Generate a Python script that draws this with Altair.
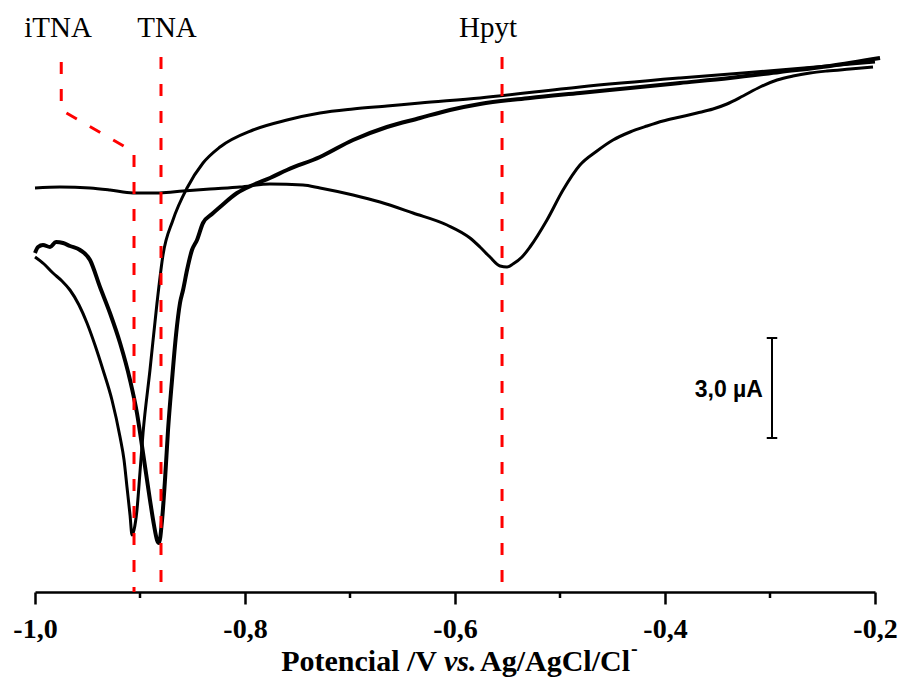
import altair as alt
import pandas as pd

# ---- data (potential in V vs Ag/AgCl/Cl-, current in µA, arbitrary offset) ----
# Curve with the iTNA peak (smooth)
E_itna = [-1.000, -0.9914, -0.9829, -0.9743, -0.9667, -0.9581, -0.9505, -0.9429, -0.9352,
          -0.9267, -0.9190, -0.9152, -0.9124, -0.9095, -0.9076, -0.9057, -0.9029, -0.9000,
          -0.8971, -0.8905, -0.8838, -0.8781, -0.8686, -0.8552, -0.8400, -0.8238, -0.7924,
          -0.7600, -0.7286, -0.6971, -0.6648, -0.6333, -0.5762, -0.4810, -0.3857, -0.2905, -0.2000]
I_itna = [10.05, 9.84, 9.57, 9.33, 9.06, 8.61, 8.07, 7.41, 6.66,
          5.76, 4.65, 3.96, 3.15, 2.31, 1.71, 1.86, 2.46, 3.60,
          4.77, 6.66, 8.67, 10.11, 11.16, 12.12, 12.87, 13.35, 13.86,
          14.16, 14.37, 14.49, 14.58, 14.67, 14.82, 15.15, 15.42, 15.66, 15.90]

# Curve with the TNA peak (noisy record)
E_tna = [-1.000, -0.9971, -0.9924, -0.9857, -0.9800, -0.9733, -0.9667, -0.9571, -0.9476,
         -0.9381, -0.9286, -0.9190, -0.9095, -0.9029, -0.8971, -0.8905, -0.8867, -0.8838,
         -0.8819, -0.8790, -0.8762, -0.8733, -0.8695, -0.8657, -0.8619, -0.8590, -0.8552,
         -0.8505, -0.8457, -0.8400, -0.8314, -0.8238, -0.8076, -0.7924, -0.7762, -0.7600,
         -0.7286, -0.6971, -0.6648, -0.6333, -0.6048, -0.5762, -0.5286, -0.4810, -0.4333,
         -0.3857, -0.3381, -0.2905, -0.2429, -0.1952]
I_tna = [10.17, 10.35, 10.41, 10.35, 10.50, 10.47, 10.38, 10.26, 9.96,
         9.15, 8.37, 7.47, 6.36, 5.37, 4.17, 2.76, 2.01, 1.56,
         1.47, 2.16, 3.36, 4.86, 6.36, 7.71, 8.67, 9.06, 9.66,
         10.26, 10.56, 11.07, 11.34, 11.55, 11.97, 12.21, 12.42, 12.66,
         13.05, 13.56, 13.95, 14.22, 14.46, 14.64, 14.82, 14.97, 15.12,
         15.27, 15.42, 15.60, 15.78, 16.02]

# Curve with the Hpyt peak (smooth)
E_hpyt = [-1.000, -0.9762, -0.9476, -0.9286, -0.9067, -0.8810, -0.8590, -0.8333, -0.8048,
          -0.7762, -0.7448, -0.7286, -0.6971, -0.6714, -0.6400, -0.6076, -0.5857, -0.5762,
          -0.5667, -0.5571, -0.5505, -0.5448, -0.5362, -0.5286, -0.5124, -0.4971, -0.4810,
          -0.4648, -0.4495, -0.4333, -0.4171, -0.4019, -0.3857, -0.3695, -0.3543, -0.3410,
          -0.3257, -0.3095, -0.2933, -0.2781, -0.2619, -0.2457, -0.2238, -0.2019]
I_hpyt = [12.12, 12.15, 12.12, 12.06, 11.97, 11.97, 12.03, 12.09, 12.15,
          12.24, 12.21, 12.12, 11.91, 11.70, 11.37, 11.01, 10.62, 10.35,
          10.05, 9.78, 9.75, 9.84, 10.05, 10.35, 11.16, 12.06, 12.81,
          13.23, 13.56, 13.80, 13.98, 14.13, 14.25, 14.37, 14.49, 14.64,
          14.88, 15.15, 15.36, 15.48, 15.57, 15.63, 15.69, 15.75]

# Peak markers
peak_names = ["iTNA", "TNA", "Hpyt"]
peak_E = [-0.9057, -0.8800, -0.5552]
label_E = [-0.9780, -0.8743, -0.5686]
label_I = 16.65
marker_top = 16.05
# leader line of the iTNA marker
itna_leader_E = [-0.9750, -0.9750, -0.9057, -0.9057]
itna_leader_I = [15.90, 14.46, 13.20, 0.0]

# Scale bar (3,0 µA)
bar_E = -0.2981
bar_I = [4.62, 7.62]
bar_label = "3,0 µA"

x_ticks_major = [-1.0, -0.8, -0.6, -0.4, -0.2]
x_ticks_minor = [-0.9, -0.7, -0.5, -0.3]

W, H = 840, 572

xscale = alt.Scale(domain=[-1.0, -0.2], nice=False, zero=False)
yscale = alt.Scale(domain=[0, 17.16], nice=False, zero=False)
xaxis = alt.Axis(values=x_ticks_major,
                 labelExpr="'-' + replace(format(abs(datum.value), '.1f'), '.', ',')",
                 labelFont="Liberation Serif", labelFontSize=28, labelFontWeight="bold",
                 labelColor="black", labelPadding=11, labelFlush=False,
                 tickSize=12, tickWidth=2.5, tickColor="black",
                 domainColor="black", domainWidth=2.5, grid=False, title=None)


def X(field="E"):
    return alt.X(f"{field}:Q", scale=xscale, axis=xaxis)


def Y(field="I"):
    return alt.Y(f"{field}:Q", scale=yscale, axis=None)


def curve(E, I, width):
    df = pd.DataFrame({"E": E, "I": I, "k": list(range(len(E)))})
    return alt.Chart(df).mark_line(color="black", strokeWidth=width,
                                   interpolate="monotone").encode(
        x=X(), y=Y(), order="k:Q")


c_itna = curve(E_itna, I_itna, 3.0)
c_hpyt = curve(E_hpyt, I_hpyt, 3.0)
c_tna = curve(E_tna, I_tna, 4.0)

minor = alt.Chart(pd.DataFrame({"E": x_ticks_minor})).mark_rule(
    color="black", strokeWidth=2.5).encode(x=X(), y=alt.value(H), y2=alt.value(H + 6))

red_df = pd.DataFrame({"E": peak_E[1:], "I": [marker_top] * 2, "I0": [0.0] * 2})
red_rules = alt.Chart(red_df).mark_rule(color="#ff0000", strokeWidth=3,
                                        strokeDash=[12, 15]).encode(
    x=X(), y=Y(), y2="I0:Q")
lead_df = pd.DataFrame({"E": itna_leader_E, "I": itna_leader_I,
                        "k": list(range(len(itna_leader_E)))})
red_lead = alt.Chart(lead_df).mark_line(color="#ff0000", strokeWidth=3,
                                        strokeDash=[12, 15]).encode(
    x=X(), y=Y(), order="k:Q")

lab_df = pd.DataFrame({"E": label_E, "I": [label_I] * 3, "t": peak_names})
labels = alt.Chart(lab_df).mark_text(font="Liberation Serif", fontSize=29,
                                     color="black", align="center",
                                     baseline="alphabetic").encode(
    x=X(), y=Y(), text="t:N")

bar_df = pd.DataFrame({"E": [bar_E], "I": [bar_I[0]], "I2": [bar_I[1]]})
bar = alt.Chart(bar_df).mark_rule(color="black", strokeWidth=2).encode(
    x=X(), y=Y(), y2="I2:Q")
cap_df = pd.DataFrame({"E": [bar_E - 0.005] * 2, "E2": [bar_E + 0.005] * 2, "I": bar_I})
caps = alt.Chart(cap_df).mark_rule(color="black", strokeWidth=2).encode(
    x=X(), x2="E2:Q", y=Y())
bar_txt = alt.Chart(pd.DataFrame({"E": [bar_E - 0.0086], "I": [sum(bar_I) / 2 - 0.06],
                                  "t": [bar_label]})).mark_text(
    font="Liberation Sans", fontSize=23, fontWeight="bold", color="black",
    align="right", baseline="middle").encode(x=X(), y=Y(), text="t:N")

# axis title made of styled pieces
t_y = 651
tdf = pd.DataFrame({"t": ["x"]})
title1 = alt.Chart(tdf).mark_text(text="Potencial /V", font="Liberation Serif", fontSize=30,
                                  fontWeight="bold", align="right", baseline="alphabetic",
                                  color="black").encode(x=alt.value(402), y=alt.value(t_y))
title2 = alt.Chart(tdf).mark_text(text="vs.", font="Liberation Serif", fontSize=30,
                                  fontWeight="bold", fontStyle="italic", align="left",
                                  baseline="alphabetic", color="black").encode(
    x=alt.value(409), y=alt.value(t_y))
title3 = alt.Chart(tdf).mark_text(text="Ag/AgCl/Cl", font="Liberation Serif", fontSize=30,
                                  fontWeight="bold", align="right", baseline="alphabetic",
                                  color="black").encode(x=alt.value(595), y=alt.value(t_y))
title4 = alt.Chart(tdf).mark_text(text="-", font="Liberation Serif", fontSize=20,
                                  fontWeight="bold", align="left", baseline="alphabetic",
                                  color="black").encode(x=alt.value(596), y=alt.value(t_y - 16))

chart = alt.layer(
    c_itna, c_hpyt, c_tna, minor, red_rules, red_lead, labels, bar, caps, bar_txt,
    title1, title2, title3, title4
).properties(
    width=W, height=H,
    autosize=alt.AutoSizeParams(type="none"),
    padding={"left": 27, "top": 12, "right": 25, "bottom": 89},
    background="white",
).configure_view(stroke=None)

chart.save("out.html", embed_options={"renderer": "svg", "actions": False})
